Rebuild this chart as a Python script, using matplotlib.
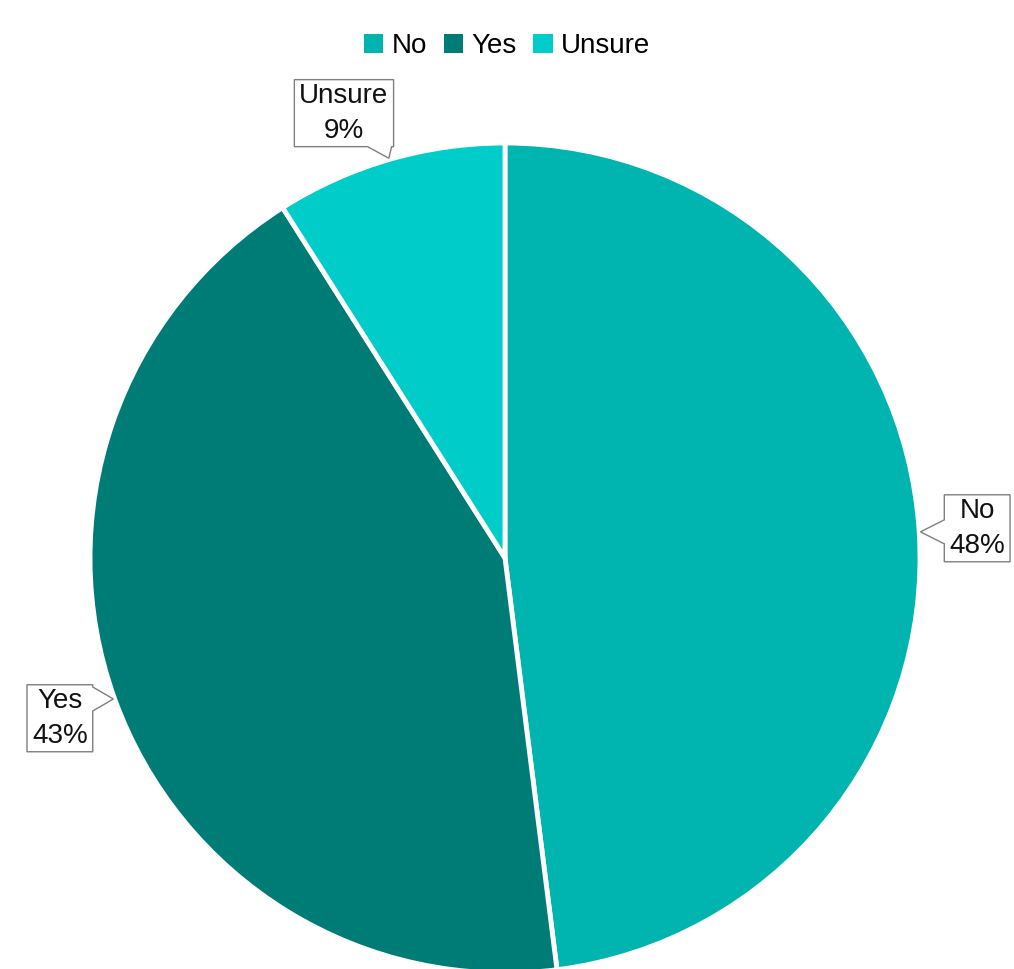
import numpy as np
import matplotlib.pyplot as plt
from matplotlib.patches import Patch, Polygon

plt.rcParams['font.family'] = ['Liberation Sans', 'DejaVu Sans']

# Survey answers
labels = ['No', 'Yes', 'Unsure']
shares = [48, 43, 9]
colors = ['#00B4AF', '#007C77', '#00CDCA']
# small angular nudges (degrees) for the callout boxes
label_nudge = [0.0, 0.0, 3.7]

W, H = 1014, 969
cx, cy, R = 505, 558, 415  # pie centre / radius in pixels

fig = plt.figure(figsize=(W / 100, H / 100), dpi=100)
ax = fig.add_axes([0, 0, 1, 1])

wedges, _ = ax.pie(shares, colors=colors, startangle=90, counterclock=False,
                   radius=1.0, wedgeprops=dict(edgecolor='white', linewidth=3.5))

# pie() resets the limits, so set them afterwards
ax.set_aspect('auto')
ax.set_xlim(-cx / R, (W - cx) / R)
ax.set_ylim(-(H - cy) / R, cy / R)
ax.axis('off')

renderer = fig.canvas.get_renderer()
to_data = ax.transData.inverted()

total = float(sum(shares))
start = 90.0
for lab, val, nudge in zip(labels, shares, label_nudge):
    span = 360.0 * val / total
    mid = np.radians(start - span / 2)
    start -= span
    tip = np.array([np.cos(mid), np.sin(mid)]) * 1.003
    lm = mid + np.radians(nudge)
    pos = np.array([np.cos(lm), np.sin(lm)]) * 1.14
    t = ax.text(pos[0], pos[1], f'{lab}\n{val}%', ha='center', va='center',
                fontsize=20, color='#111111', linespacing=1.45, zorder=6)
    bb = t.get_window_extent(renderer)
    pad = 5
    x0, x1 = bb.x0 - pad, bb.x1 + pad
    y0, y1 = bb.y0 - 3, bb.y1 + 3
    tp = ax.transData.transform(tip)
    half = 12
    if tp[1] < y0:
        bx = np.clip(tp[0], x0 + half + 2, x1 - half - 2)
        pts = [(x0, y1), (x1, y1), (x1, y0), (bx + half, y0), tp,
               (bx - half, y0), (x0, y0)]
    elif tp[0] < x0:
        by = np.clip(tp[1], y0 + half + 2, y1 - half - 2)
        pts = [(x0, y1), (x1, y1), (x1, y0), (x0, y0), (x0, by - half), tp,
               (x0, by + half)]
    elif tp[0] > x1:
        by = np.clip(tp[1], y0 + half + 2, y1 - half - 2)
        pts = [(x0, y1), (x1, y1), (x1, by + half), tp, (x1, by - half),
               (x1, y0), (x0, y0)]
    else:
        bx = np.clip(tp[0], x0 + half + 2, x1 - half - 2)
        pts = [(x0, y1), (bx - half, y1), tp, (bx + half, y1), (x1, y1),
               (x1, y0), (x0, y0)]
    poly = Polygon(to_data.transform(np.array(pts, dtype=float)), closed=True,
                   facecolor='white', edgecolor='#7F7F7F', linewidth=1.0, zorder=5)
    ax.add_patch(poly)

handles = [Patch(facecolor=c, edgecolor='none') for c in colors]
fig.legend(handles, labels, loc='center', bbox_to_anchor=(0.5, 1 - 46 / H),
           ncol=3, frameon=False, fontsize=20, handlelength=0.7,
           handleheight=0.7, handletextpad=0.3, columnspacing=0.6,
           borderaxespad=0)

fig.savefig('out.png', dpi=100, facecolor='white')
